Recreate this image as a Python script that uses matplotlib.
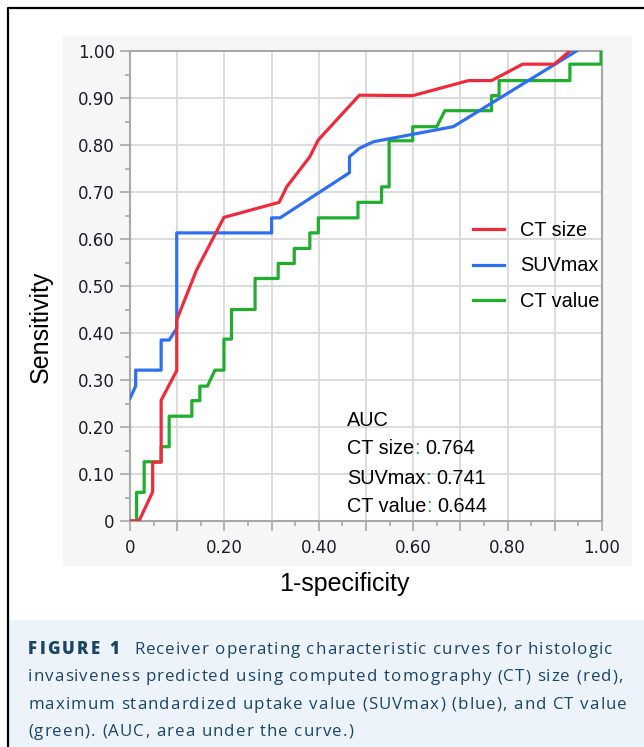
import matplotlib
matplotlib.use("Agg")
import matplotlib.pyplot as plt
from matplotlib.patches import Rectangle
from matplotlib.lines import Line2D
from matplotlib.font_manager import FontProperties, findfont
from matplotlib.ft2font import FT2Font
from matplotlib.ticker import MultipleLocator, FuncFormatter

# ===== data =====
red_x = [0, 0.019, 0.048, 0.048, 0.066, 0.066, 0.099, 0.099, 0.141, 0.199, 0.316,
         0.332, 0.381, 0.399, 0.486, 0.599, 0.717, 0.766, 0.832, 0.899, 0.932]
red_y = [0, 0, 0.062, 0.125, 0.125, 0.257, 0.320, 0.428, 0.534, 0.646, 0.678,
         0.711, 0.775, 0.811, 0.906, 0.905, 0.937, 0.937, 0.972, 0.972, 1.0]

blue_x = [0, 0.012, 0.012, 0.066, 0.066, 0.083, 0.099, 0.099, 0.300, 0.300, 0.318,
          0.465, 0.465, 0.486, 0.516, 0.685, 0.946]
blue_y = [0.261, 0.287, 0.321, 0.321, 0.385, 0.385, 0.410, 0.613, 0.613, 0.645, 0.645,
          0.741, 0.775, 0.793, 0.807, 0.839, 1.0]

green_x = [0, 0.014, 0.014, 0.030, 0.030, 0.066, 0.066, 0.083, 0.083, 0.131,
           0.131, 0.148, 0.148, 0.164, 0.180, 0.199, 0.199, 0.215, 0.215, 0.265,
           0.265, 0.314, 0.314, 0.348, 0.348, 0.381, 0.381, 0.399, 0.399, 0.483,
           0.483, 0.533, 0.533, 0.549, 0.549, 0.599, 0.599, 0.650, 0.667, 0.766,
           0.766, 0.782, 0.782, 0.932, 0.932, 0.998, 0.998]
green_y = [0, 0, 0.061, 0.061, 0.126, 0.126, 0.158, 0.158, 0.223, 0.223,
           0.256, 0.256, 0.287, 0.287, 0.321, 0.321, 0.387, 0.387, 0.450, 0.450,
           0.516, 0.516, 0.548, 0.548, 0.580, 0.580, 0.613, 0.613, 0.645, 0.645,
           0.678, 0.678, 0.711, 0.711, 0.809, 0.809, 0.839, 0.839, 0.873, 0.873,
           0.905, 0.905, 0.937, 0.937, 0.972, 0.972, 1.0]

series_names = ["CT size", "SUVmax", "CT value"]
auc_values = ["0.764", "0.741", "0.644"]

caption_lines = [
    [("FIGURE 1", True), ("Receiver operating characteristic curves for histologic", False)],
    [("invasiveness predicted using computed tomography (CT) size (red),", False)],
    [("maximum standardized uptake value (SUVmax) (blue), and CT value", False)],
    [("(green). (AUC, area under the curve.)", False)],
]

RED, BLUE, GREEN = "#ef2a3c", "#2e6ff0", "#1fae2e"
W, H = 644, 747

fig = plt.figure(figsize=(W / 100, H / 100), dpi=100)
fig.patch.set_facecolor("white")

# light gray chart panel and caption background
fig.add_artist(Rectangle((63 / W, 1 - 566 / H), 569 / W, 531 / H, transform=fig.transFigure,
                         facecolor="#f6f6f6", edgecolor="none", zorder=0))
fig.add_artist(Rectangle((9 / W, 0), 1, (H - 620) / H, transform=fig.transFigure,
                         facecolor="#edf3fb", edgecolor="none", zorder=0))
fig.add_artist(Line2D([8 / W, 8 / W, 1.0], [0, 1 - 8 / H, 1 - 8 / H], transform=fig.transFigure,
                      color="black", lw=1.6, zorder=3))

ax = fig.add_axes([130 / W, 1 - 521 / H, 472 / W, 470 / H])
ax.set_facecolor("white")

lg, = ax.plot(green_x, green_y, color=GREEN, lw=2.3, label="CT value", zorder=3)
lb, = ax.plot(blue_x, blue_y, color=BLUE, lw=2.3, label="SUVmax", zorder=4)
lr, = ax.plot(red_x, red_y, color=RED, lw=2.3, label="CT size", zorder=5)

ax.set_xlim(0, 1)
ax.set_ylim(0, 1)
ax.xaxis.set_major_locator(MultipleLocator(0.1))
ax.xaxis.set_minor_locator(MultipleLocator(0.05))
ax.yaxis.set_major_locator(MultipleLocator(0.1))
ax.yaxis.set_minor_locator(MultipleLocator(0.05))


def fmt_x(v, p):
    if abs(v) < 1e-9:
        return "0"
    return f"{v:.2f}" if round(v * 10) % 2 == 0 else ""


def fmt_y(v, p):
    return "0" if abs(v) < 1e-9 else f"{v:.2f}"


ax.xaxis.set_major_formatter(FuncFormatter(fmt_x))
ax.yaxis.set_major_formatter(FuncFormatter(fmt_y))
ax.tick_params(which="major", length=7, width=1.1, color="#a0a0a0", labelsize=12,
               labelcolor="#1c1c28", pad=4)
ax.tick_params(which="minor", length=3.6, width=1.1, color="#a0a0a0")
ax.tick_params(axis="x", which="major", pad=6)
for lab in ax.get_xticklabels() + ax.get_yticklabels():
    lab.set_family("DejaVu Sans")

ax.grid(True, which="major", color="#d9d9d9", lw=1.3)
ax.set_axisbelow(True)
for s in ax.spines.values():
    s.set_color("#a8a8a8")
    s.set_linewidth(1.5)

lab_font = FontProperties(family="Liberation Sans", size=18)
fig.text(41 / W, 1 - 327 / H, "Sensitivity", rotation=90, ha="center", va="center",
         fontproperties=lab_font)
fig.text(344 / W, 1 - 584 / H, "1-specificity", ha="center", va="center",
         fontproperties=lab_font)

txt_font = FontProperties(family="Liberation Sans", size=14.3)
ax.legend(handles=[lr, lb, lg], loc="center left", bbox_to_anchor=(0.7267, 0.5426),
          frameon=False, prop=txt_font, handlelength=1.55, handletextpad=0.8,
          labelspacing=0.82, borderpad=0, borderaxespad=0)

# AUC block, colons in green
auc_x = (347 - 130) / 472
ax.text(auc_x, (521 - 420) / 470, "AUC", fontproperties=txt_font, va="center", ha="left")
for i, (name, val) in enumerate(zip(series_names, auc_values)):
    ypos = (521 - (449 + 29 * i)) / 470
    t1 = ax.text(auc_x, ypos, name, fontproperties=txt_font, va="center", ha="left")
    t2 = ax.annotate(":", xy=(1, 0), xycoords=t1, va="bottom", ha="left",
                     color=GREEN, fontproperties=txt_font)
    ax.annotate(val, xy=(1, 0), xycoords=t2, xytext=(4, 0), textcoords="offset points",
                va="bottom", ha="left", fontproperties=txt_font)

# ===== caption with letter spacing =====
CAP_SIZE = 12.2
cap_reg = FontProperties(family="Open Sans", size=CAP_SIZE, weight=500)
cap_bold = FontProperties(family="Open Sans", size=CAP_SIZE, weight="heavy")
CAP_COLOR = "#1b4566"

ft_fonts = {}
for key, prop in (("reg", cap_reg), ("bold", cap_bold)):
    f = FT2Font(findfont(prop))
    f.set_size(CAP_SIZE, 100)
    ft_fonts[key] = f


def advance(ch, key):
    g = ft_fonts[key].load_char(ord(ch))
    return g.linearHoriAdvance / 65536.0


def layout(segments, track, gap=0.0):
    # pen positions from real glyph advances plus extra letter spacing;
    # `gap` is the space put between segments
    items = []
    pen = 0.0
    for k, (seg, bold) in enumerate(segments):
        if k > 0:
            pen += gap
        key = "bold" if bold else "reg"
        prop = cap_bold if bold else cap_reg
        tr = track * 2 if bold else track
        for ch in seg:
            if ch != " ":
                items.append((pen, ch, prop))
            pen += advance(ch, key) + tr
    return items, pen


# letter spacing chosen so the second line spans 28..623 px like the reference
_, natural = layout(caption_lines[1], 0.0)
nchar = sum(len(s) for s, _ in caption_lines[1])
track = (595 - natural) / (nchar - 1)
# "Receiver" starts near x=134 px in the reference
_, label_w = layout(caption_lines[0][:1], track)
label_gap = (134 - 28) - label_w

for j, segs in enumerate(caption_lines):
    items, _ = layout(segs, track, label_gap)
    base = 654 + 27.3 * j
    for xo, ch, prop in items:
        fig.text((28 + xo) / W, 1 - base / H, ch, fontproperties=prop, color=CAP_COLOR,
                 ha="left", va="baseline")

fig.savefig("out.png", dpi=100)
